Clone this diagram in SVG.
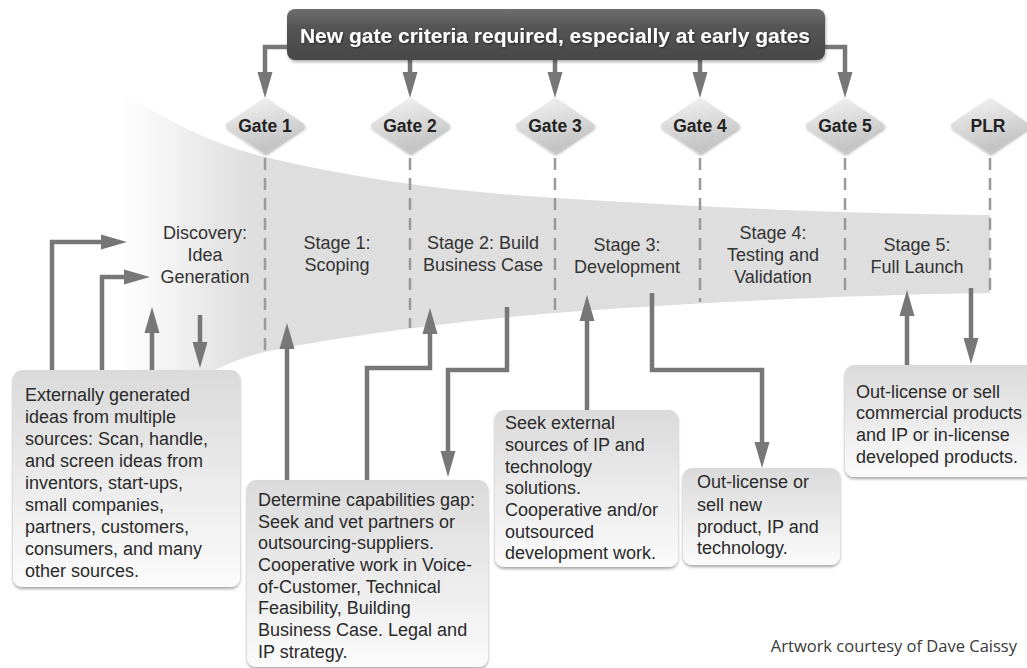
<svg xmlns="http://www.w3.org/2000/svg" width="1027" height="668" viewBox="0 0 1027 668">
  <style>
    .banner-text { font-family: "Liberation Sans", Arial, Helvetica, sans-serif; font-size: 21px; font-weight: bold; fill: #ffffff; }
    .gate-text { font-family: "Liberation Sans", Arial, Helvetica, sans-serif; font-size: 17.5px; font-weight: bold; fill: #222222; }
    .stage-text { font-family: "Liberation Sans", Arial, Helvetica, sans-serif; font-size: 18px; fill: #333333; }
    .box-text { font-family: "Liberation Sans", Arial, Helvetica, sans-serif; font-size: 18px; fill: #2a2a2a; }
    .credit { font-family: "Open Sans", "Liberation Sans", Arial, sans-serif; font-size: 16.5px; fill: #3a3a3a; }
    .gate { fill: url(#gateGrad); stroke: url(#gateGrad); stroke-width: 6; stroke-linejoin: round; filter: url(#softShadow); }
    .box { fill: url(#boxGrad); filter: url(#boxShadow); }
    .flow { fill: none; stroke: #777777; stroke-width: 4.5; stroke-linejoin: miter; marker-end: url(#head); }
    .gate-line { fill: none; stroke: #999999; stroke-width: 2.5; stroke-dasharray: 12 8; }
  </style>
  <defs>
    <linearGradient id="funnelGrad" gradientUnits="userSpaceOnUse" x1="122" y1="0" x2="250" y2="0">
      <stop offset="0" stop-color="#ffffff"/>
      <stop offset="1" stop-color="#dedede"/>
    </linearGradient>
    <linearGradient id="gateGrad" x1="0" y1="0" x2="0.3" y2="1">
      <stop offset="0" stop-color="#f2f2f2"/>
      <stop offset="1" stop-color="#c4c4c4"/>
    </linearGradient>
    <linearGradient id="boxGrad" x1="0" y1="0" x2="0" y2="1">
      <stop offset="0" stop-color="#dadada"/>
      <stop offset="1" stop-color="#fbfbfb"/>
    </linearGradient>
    <linearGradient id="bannerGrad" x1="0" y1="0" x2="0" y2="1">
      <stop offset="0" stop-color="#6e6e6e"/>
      <stop offset="0.35" stop-color="#555555"/>
      <stop offset="1" stop-color="#484848"/>
    </linearGradient>
    <filter id="softShadow" x="-20%" y="-20%" width="140%" height="150%">
      <feDropShadow dx="1" dy="2" stdDeviation="1.5" flood-color="#000" flood-opacity="0.3"/>
    </filter>
    <filter id="boxShadow" x="-5%" y="-5%" width="110%" height="115%">
      <feDropShadow dx="0" dy="2" stdDeviation="1.5" flood-color="#000" flood-opacity="0.35"/>
    </filter>
    <filter id="textShadow" x="-5%" y="-30%" width="110%" height="160%">
      <feDropShadow dx="1" dy="1" stdDeviation="0.8" flood-color="#000" flood-opacity="0.5"/>
    </filter>
    <marker id="head" markerUnits="userSpaceOnUse" markerWidth="26" markerHeight="15" refX="16" refY="7.5" orient="auto" overflow="visible">
      <path d="M0,0 L26,7.5 L0,15 Z" fill="#777777"/>
    </marker>
  </defs>

  <rect width="1027" height="668" fill="#ffffff"/>

  <!-- funnel of stages narrowing to the right -->
  <path id="funnel" fill="url(#funnelGrad)"
        d="M122,92 C175,125 215,145 265,157 C365,181 460,192 555,198 C700,207 850,214 990,215
           L990,293 C850,295 680,303 555,313 C455,321 330,338 265,352 C215,363 170,395 150,420
           L122,440 Z"/>

  <!-- gate boundaries -->
  <g id="gate-lines">
    <path class="gate-line" d="M265,158 V352"/>
    <path class="gate-line" d="M410,158 V328"/>
    <path class="gate-line" d="M555,158 V312"/>
    <path class="gate-line" d="M700,158 V302"/>
    <path class="gate-line" d="M845,158 V297"/>
    <path class="gate-line" d="M990,158 V293"/>
  </g>

  <!-- stage labels -->
  <g id="stage-discovery">
    <text class="stage-text" text-anchor="middle" x="205" y="239">Discovery:</text>
    <text class="stage-text" text-anchor="middle" x="205" y="261">Idea</text>
    <text class="stage-text" text-anchor="middle" x="205" y="283">Generation</text>
  </g>
  <g id="stage-1">
    <text class="stage-text" text-anchor="middle" x="337" y="249">Stage 1:</text>
    <text class="stage-text" text-anchor="middle" x="337" y="271">Scoping</text>
  </g>
  <g id="stage-2">
    <text class="stage-text" text-anchor="middle" x="483" y="249">Stage 2: Build</text>
    <text class="stage-text" text-anchor="middle" x="483" y="271">Business Case</text>
  </g>
  <g id="stage-3">
    <text class="stage-text" text-anchor="middle" x="627" y="251">Stage 3:</text>
    <text class="stage-text" text-anchor="middle" x="627" y="273">Development</text>
  </g>
  <g id="stage-4">
    <text class="stage-text" text-anchor="middle" x="773" y="239">Stage 4:</text>
    <text class="stage-text" text-anchor="middle" x="773" y="261">Testing and</text>
    <text class="stage-text" text-anchor="middle" x="773" y="283">Validation</text>
  </g>
  <g id="stage-5">
    <text class="stage-text" text-anchor="middle" x="917" y="251">Stage 5:</text>
    <text class="stage-text" text-anchor="middle" x="917" y="273">Full Launch</text>
  </g>

  <!-- connectors -->
  <g id="connectors">
    <path class="flow" d="M290,47 H265 V88"/>
    <path class="flow" d="M410,55 V88"/>
    <path class="flow" d="M555,55 V88"/>
    <path class="flow" d="M700,55 V88"/>
    <path class="flow" d="M822,47 H845 V88"/>

    <path class="flow" d="M52,372 V242 H117"/>
    <path class="flow" d="M102,372 V277 H140"/>
    <path class="flow" d="M152,372 V317"/>
    <path class="flow" d="M200,315 V358"/>

    <path class="flow" d="M287,482 V333"/>
    <path class="flow" d="M367,482 V368 H430 V318"/>
    <path class="flow" d="M507,307 V370 H448 V467"/>

    <path class="flow" d="M587,412 V305"/>
    <path class="flow" d="M652,293 V370 H762 V458"/>

    <path class="flow" d="M907,367 V300"/>
    <path class="flow" d="M971,288 V354"/>
  </g>

  <!-- banner -->
  <g id="criteria-banner">
    <rect x="287" y="9" width="538" height="51" rx="8" fill="url(#bannerGrad)" filter="url(#softShadow)"/>
    <text class="banner-text" text-anchor="middle" x="555" y="43" filter="url(#textShadow)">New gate criteria required, especially at early gates</text>
  </g>

  <!-- gates -->
  <g id="gate-1">
    <polygon class="gate" points="265,101 301,125.5 265,150 229,125.5"/>
    <text class="gate-text" text-anchor="middle" x="265" y="131.5">Gate 1</text>
  </g>
  <g id="gate-2">
    <polygon class="gate" points="410,101 446,125.5 410,150 374,125.5"/>
    <text class="gate-text" text-anchor="middle" x="410" y="131.5">Gate 2</text>
  </g>
  <g id="gate-3">
    <polygon class="gate" points="555,101 591,125.5 555,150 519,125.5"/>
    <text class="gate-text" text-anchor="middle" x="555" y="131.5">Gate 3</text>
  </g>
  <g id="gate-4">
    <polygon class="gate" points="700,101 736,125.5 700,150 664,125.5"/>
    <text class="gate-text" text-anchor="middle" x="700" y="131.5">Gate 4</text>
  </g>
  <g id="gate-5">
    <polygon class="gate" points="845,101 881,125.5 845,150 809,125.5"/>
    <text class="gate-text" text-anchor="middle" x="845" y="131.5">Gate 5</text>
  </g>
  <g id="gate-plr">
    <polygon class="gate" points="990,101 1026,125.5 990,150 954,125.5"/>
    <text class="gate-text" text-anchor="middle" x="988" y="131.5">PLR</text>
  </g>

  <!-- activity boxes -->
  <g id="box-external-ideas">
    <rect class="box" x="13" y="370" width="227" height="217" rx="9"/>
    <text class="box-text" x="25" y="401">Externally generated</text>
    <text class="box-text" x="25" y="423">ideas from multiple</text>
    <text class="box-text" x="25" y="445">sources: Scan, handle,</text>
    <text class="box-text" x="25" y="467">and screen ideas from</text>
    <text class="box-text" x="25" y="489">inventors, start-ups,</text>
    <text class="box-text" x="25" y="511">small companies,</text>
    <text class="box-text" x="25" y="533">partners, customers,</text>
    <text class="box-text" x="25" y="555">consumers, and many</text>
    <text class="box-text" x="25" y="577">other sources.</text>
  </g>
  <g id="box-capabilities">
    <rect class="box" x="247" y="480" width="241" height="187" rx="9"/>
    <text class="box-text" x="258" y="506">Determine capabilities gap:</text>
    <text class="box-text" x="258" y="528">Seek and vet partners or</text>
    <text class="box-text" x="258" y="549">outsourcing-suppliers.</text>
    <text class="box-text" x="258" y="571">Cooperative work in Voice-</text>
    <text class="box-text" x="258" y="593">of-Customer, Technical</text>
    <text class="box-text" x="258" y="614">Feasibility, Building</text>
    <text class="box-text" x="258" y="636">Business Case. Legal and</text>
    <text class="box-text" x="258" y="658">IP strategy.</text>
  </g>
  <g id="box-external-ip">
    <rect class="box" x="495" y="410" width="183" height="157" rx="9"/>
    <text class="box-text" x="505" y="429">Seek external</text>
    <text class="box-text" x="505" y="451">sources of IP and</text>
    <text class="box-text" x="505" y="473">technology</text>
    <text class="box-text" x="505" y="494">solutions.</text>
    <text class="box-text" x="505" y="516">Cooperative and/or</text>
    <text class="box-text" x="505" y="538">outsourced</text>
    <text class="box-text" x="505" y="559">development work.</text>
  </g>
  <g id="box-out-license-new">
    <rect class="box" x="683" y="468" width="157" height="97" rx="9"/>
    <text class="box-text" x="697" y="488">Out-license or</text>
    <text class="box-text" x="697" y="511">sell new</text>
    <text class="box-text" x="697" y="533">product, IP and</text>
    <text class="box-text" x="697" y="554">technology.</text>
  </g>
  <g id="box-out-license-commercial">
    <rect class="box" x="845" y="365" width="190" height="112" rx="9"/>
    <text class="box-text" x="856" y="398">Out-license or sell</text>
    <text class="box-text" x="856" y="419">commercial products</text>
    <text class="box-text" x="856" y="441">and IP or in-license</text>
    <text class="box-text" x="856" y="463">developed products.</text>
  </g>

  <text class="credit" text-anchor="end" x="1017" y="652">Artwork courtesy of Dave Caissy</text>
</svg>
